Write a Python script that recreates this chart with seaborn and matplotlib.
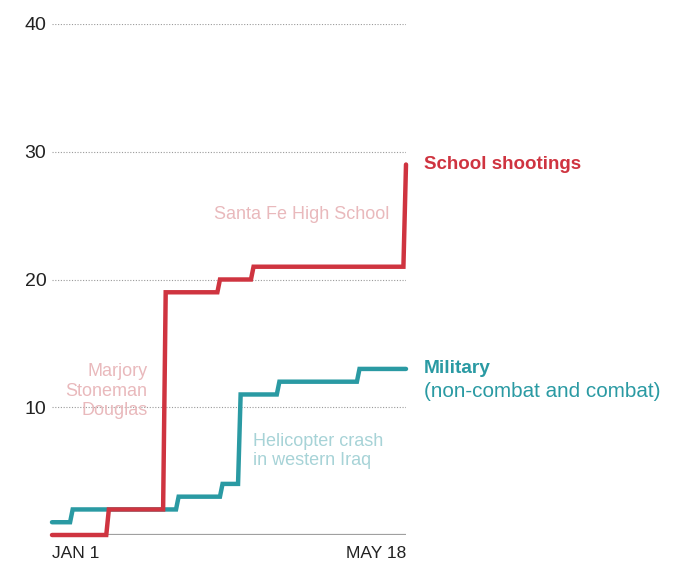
import pandas as pd
import matplotlib.pyplot as plt
import seaborn as sns

# cumulative deaths in 2018 (each step is a pair of days)
school_dates = ["2018-01-01", "2018-01-22", "2018-01-23", "2018-02-13", "2018-02-14",
                "2018-03-06", "2018-03-07", "2018-03-19", "2018-03-20",
                "2018-05-17", "2018-05-18"]
school_totals = [0, 0, 2, 2, 19, 19, 20, 20, 21, 21, 29]

military_dates = ["2018-01-01", "2018-01-08", "2018-01-09", "2018-02-18", "2018-02-19",
                  "2018-03-07", "2018-03-08", "2018-03-14", "2018-03-15",
                  "2018-03-29", "2018-03-30", "2018-04-29", "2018-04-30", "2018-05-18"]
military_totals = [1, 1, 2, 2, 3, 3, 4, 4, 11, 11, 12, 12, 13, 13]

y_ticks = [10, 20, 30, 40]
x_tick_dates = ["2018-01-01", "2018-05-18"]
x_tick_labels = ["JAN 1", "MAY 18"]

RED = "#cf3440"
TEAL = "#2a9aa3"

school = pd.DataFrame({"date": pd.to_datetime(school_dates), "deaths": school_totals})
military = pd.DataFrame({"date": pd.to_datetime(military_dates), "deaths": military_totals})

sns.set_theme(style="white")
plt.rcParams["font.family"] = ["Liberation Sans", "DejaVu Sans"]

fig = plt.figure(figsize=(6.8, 5.78), dpi=100)
ax = fig.add_axes([52 / 680, 43 / 578, 354 / 680, 511 / 578])

# baseline
ax.axhline(0, color="#a0a0a0", lw=1.6, zorder=1)

sns.lineplot(data=military, x="date", y="deaths", color=TEAL, lw=3.2, ax=ax,
             clip_on=False, zorder=3, solid_joinstyle="miter")
sns.lineplot(data=school, x="date", y="deaths", color=RED, lw=3.2, ax=ax,
             clip_on=False, zorder=4, solid_joinstyle="miter")

ax.set_xlim(pd.Timestamp("2018-01-01"), pd.Timestamp("2018-05-18"))
ax.set_ylim(0, 40)

ax.set_yticks(y_ticks)
ax.set_yticklabels([str(t) for t in y_ticks])
ax.grid(axis="y", color="#9a9a9a", linestyle=(0, (1, 1.5)), lw=0.8)
ax.grid(axis="x", visible=False)

ax.set_xticks(pd.to_datetime(x_tick_dates))
ax.set_xticklabels(x_tick_labels)
ax.get_xticklabels()[0].set_horizontalalignment("left")
ax.get_xticklabels()[1].set_horizontalalignment("right")
ax.tick_params(axis="both", length=0, colors="#222222")
ax.tick_params(axis="y", pad=4, labelsize=14)
ax.tick_params(axis="x", pad=8, labelsize=12.5)

for s in ax.spines.values():
    s.set_visible(False)
ax.set_xlabel("")
ax.set_ylabel("")
ax.legend_ = None

end = pd.Timestamp("2018-05-18")
ax.annotate("School shootings", xy=(end, 29), xytext=(13, 0), textcoords="offset points",
            ha="left", va="center", fontsize=13.5, fontweight="bold", color=RED)
ax.annotate("Military", xy=(end, 13), xytext=(13, 0), textcoords="offset points",
            ha="left", va="center", fontsize=13.8, fontweight="bold", color=TEAL)
ax.annotate("(non-combat and combat)", xy=(end, 13), xytext=(13, -16), textcoords="offset points",
            ha="left", va="center", fontsize=14.9, color=TEAL)

ax.annotate("Santa Fe High School", xy=(end, 25.1), xytext=(-12, 0), textcoords="offset points",
            ha="right", va="center", fontsize=13, color="#e9b9bc")
ax.annotate("Marjory\nStoneman\nDouglas", xy=(pd.Timestamp("2018-02-14"), 11.25), xytext=(-13, 0),
            textcoords="offset points", ha="right", va="center", fontsize=13,
            color="#e9b9bc", linespacing=1.18)
ax.annotate("Helicopter crash\nin western Iraq", xy=(pd.Timestamp("2018-03-15"), 6.6), xytext=(9, 0),
            textcoords="offset points", ha="left", va="center", fontsize=13,
            color="#a7d3d7", linespacing=1.18)

plt.savefig("out.png", dpi=100)
plt.close()
